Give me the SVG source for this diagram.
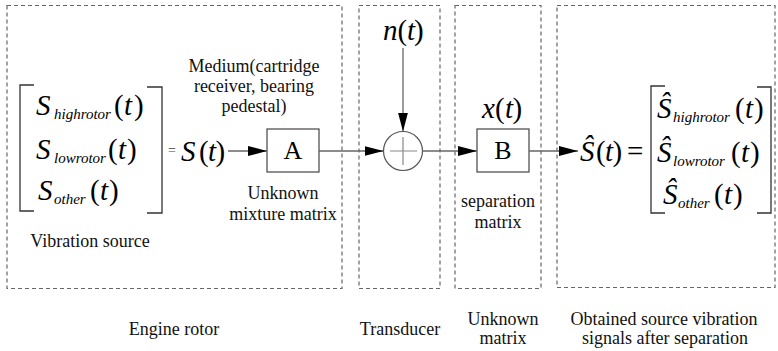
<svg xmlns="http://www.w3.org/2000/svg" width="778" height="351" viewBox="0 0 778 351">
<style>
text{font-family:"Liberation Serif","Times New Roman",serif}
.dash{fill:none;stroke:#666;stroke-width:1.2;stroke-dasharray:4 3}
.box{fill:#fff;stroke:#444;stroke-width:1.2}
.br{fill:none;stroke:#333;stroke-width:1.3}
.ln{fill:none;stroke:#666;stroke-width:1.3}
.t{font-size:18px;fill:#111;text-anchor:middle}
.m{font-size:29px;fill:#000}
.i{font-style:italic}
.s{font-size:15px;font-style:italic;fill:#000}
.L{font-size:26px;fill:#000;text-anchor:middle}
</style>
<defs>
<marker id="ah" markerUnits="userSpaceOnUse" markerWidth="19" markerHeight="10" refX="19" refY="5" orient="auto">
<path d="M0,0 L19,5 L0,10 z" fill="#000"/>
</marker>
</defs>

<g id="regions">
<rect id="engine-rotor" class="dash" x="7" y="5.5" width="335" height="283"/>
<rect id="transducer" class="dash" x="359" y="5.5" width="81" height="283"/>
<rect id="unknown-matrix" class="dash" x="455" y="5.5" width="86" height="283"/>
<rect id="obtained" class="dash" x="557" y="5.5" width="218" height="282"/>
</g>

<g id="source-matrix">
<polyline class="br" points="34,85 20,85 20,211 34,211"/>
<polyline class="br" points="147,87 162,87 162,213 147,213"/>
<text class="m i" x="36" y="115">S</text><text class="s" x="54" y="119">highrotor</text>
<text class="m" x="114" y="115">(</text><text class="m i" x="124" y="115">t</text><text class="m" x="134" y="115">)</text>
<text class="m i" x="36" y="159">S</text><text class="s" x="54" y="163">lowrotor</text>
<text class="m" x="108" y="159">(</text><text class="m i" x="118" y="159">t</text><text class="m" x="127" y="159">)</text>
<text class="m i" x="38" y="200">S</text><text class="s" x="54" y="204">other</text>
<text class="m" x="90" y="200">(</text><text class="m i" x="100" y="200">t</text><text class="m" x="109" y="200">)</text>
<text class="t" x="90" y="247">Vibration source</text>
</g>

<g id="s-of-t">
<text x="168" y="155" font-size="14" fill="#444">=</text>
<text class="m i" x="181" y="161">S</text>
<text class="m" x="199" y="161">(</text><text class="m i" x="208" y="161">t</text><text class="m" x="215.5" y="161">)</text>
</g>

<g id="node-A">
<text class="t" x="254" y="72">Medium(cartridge</text>
<text class="t" x="254" y="92">receiver, bearing</text>
<text class="t" x="254" y="112">pedestal)</text>
<rect class="box" x="267" y="129" width="52" height="43"/>
<text class="L" x="293" y="159">A</text>
<text class="t" x="283" y="199">Unknown</text>
<text class="t" x="283" y="220">mixture matrix</text>
</g>

<g id="noise">
<text class="m i" x="383" y="40">n</text>
<text class="m" x="397.5" y="40">(</text><text class="m i" x="407" y="40">t</text><text class="m" x="414" y="40">)</text>
</g>

<g id="sum">
<circle cx="403" cy="151" r="19.5" fill="#fff" stroke="#555" stroke-width="1.2"/>
<path d="M390,151 H417 M403,137 V165" stroke="#888" stroke-width="1.2"/>
</g>

<g id="node-B">
<text class="m i" x="482" y="118">x</text>
<text class="m" x="495" y="118">(</text><text class="m i" x="505" y="118">t</text><text class="m" x="512.5" y="118">)</text>
<rect class="box" x="477" y="129" width="52" height="43"/>
<text class="L" x="503" y="159">B</text>
<text class="t" x="498" y="207">separation</text>
<text class="t" x="498" y="228">matrix</text>
</g>

<g id="estimate">
<text class="m i" x="580" y="161">Ŝ</text>
<text class="m" x="596" y="161">(</text><text class="m i" x="605" y="161">t</text><text class="m" x="612.5" y="161">)</text>
<text class="m" x="627" y="161">=</text>
<polyline class="br" points="665,86 651,86 651,213 665,213"/>
<polyline class="br" points="757,87 771,87 771,213 757,213"/>
<text class="m i" x="657" y="118">Ŝ</text><text class="s" x="673" y="122">highrotor</text>
<text class="m" x="735" y="118">(</text><text class="m i" x="745" y="118">t</text><text class="m" x="754" y="118">)</text>
<text class="m i" x="657" y="162">Ŝ</text><text class="s" x="673" y="166">lowrotor</text>
<text class="m" x="731" y="162">(</text><text class="m i" x="741" y="162">t</text><text class="m" x="750" y="162">)</text>
<text class="m i" x="663" y="204">Ŝ</text><text class="s" x="678" y="208">other</text>
<text class="m" x="714" y="204">(</text><text class="m i" x="724" y="204">t</text><text class="m" x="733" y="204">)</text>
</g>

<g id="connectors">
<line class="ln" x1="228" y1="151" x2="267" y2="151" marker-end="url(#ah)"/>
<line class="ln" x1="319" y1="151" x2="383.5" y2="151" marker-end="url(#ah)"/>
<line class="ln" x1="403" y1="48" x2="403" y2="131.5" marker-end="url(#ah)"/>
<line class="ln" x1="422.5" y1="151" x2="477" y2="151" marker-end="url(#ah)"/>
<line class="ln" x1="529" y1="151" x2="578" y2="151" marker-end="url(#ah)"/>
</g>

<g id="captions">
<text class="t" x="174" y="335">Engine rotor</text>
<text class="t" x="400" y="335">Transducer</text>
<text class="t" x="503" y="325">Unknown</text>
<text class="t" x="503" y="344">matrix</text>
<text class="t" x="664" y="325">Obtained source vibration</text>
<text class="t" x="665" y="344">signals after separation</text>
</g>
</svg>
